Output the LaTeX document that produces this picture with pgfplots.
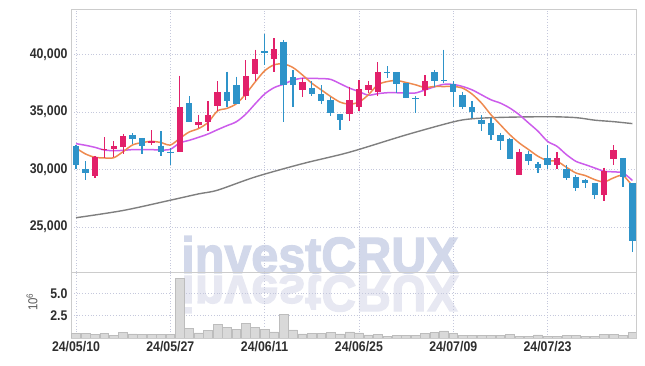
\documentclass[border=0pt]{standalone}
\usepackage{fontspec}
\setmainfont{Liberation Sans}[FakeStretch=0.88]
\newfontfamily\wmfont{Liberation Sans}[UprightFont=* Bold, FakeBold=2.5]
\usepackage{pgfplots}
\pgfplotsset{compat=1.18}
\usepackage{pgfplotstable}
\definecolor{upc}{HTML}{E2206A}
\definecolor{dnc}{HTML}{2E93C9}
\definecolor{maf}{HTML}{EE8A4F}
\definecolor{mat}{HTML}{CC5CEB}
\definecolor{mas}{HTML}{7F7F7F}
\definecolor{gridc}{HTML}{C5C8DC}
\definecolor{axc}{HTML}{CCCCCC}
\definecolor{txt}{HTML}{2E2E2E}
\definecolor{wm}{HTML}{D2D8EA}
\definecolor{wmr}{HTML}{E7E8F2}
\definecolor{volf}{HTML}{D9D9D9}
\definecolor{vole}{HTML}{BDBDBD}

\pgfplotstableread{
idx ma5 ma10
0 31860 32240
1 31350 32100
2 31060 31920
3 31000 31690
4 31020 31630
5 31550 31660
6 32130 31720
7 32330 31720
8 32440 31720
9 32340 31690
10 32120 31750
11 32700 32300
12 33250 32530
13 33550 32790
14 34080 33080
15 35080 33450
16 35300 33800
17 35700 34140
18 36550 34800
19 37600 35700
20 38560 36550
21 39080 37100
22 39160 37400
23 38850 37750
24 38210 37920
25 37490 37900
26 36910 37890
27 36340 37820
28 35850 37450
29 35670 37060
30 35850 36760
31 36480 36450
32 37350 36580
33 37630 36660
34 37720 36660
35 37550 36640
36 37350 36640
37 37120 36900
38 37200 37170
39 37200 37390
40 37200 37380
41 37060 37200
42 36540 36910
43 35760 36480
44 34750 36050
45 33880 35760
46 33020 35330
47 32300 34750
48 31720 34030
49 31140 33310
50 30770 32440
51 30710 32010
52 30190 31290
53 29700 30710
54 29470 30420
55 29120 30130
56 28920 29850
57 29270 29790
58 29470 29700
59 28550 29040
}\matable

\pgfplotstableread{
idx ma60
0 25810
5 26440
10 27330
13 27880
15 28200
19 29350
24 30500
29 31500
35 33000
40 34130
42 34400
45 34520
50 34580
53 34500
55 34280
57 34150
59 33980
}\malong

\pgfplotstableread{
idx vol
0 0.49
1 0.49
2 0.38
3 0.52
4 0.30
5 0.64
6 0.45
7 0.38
8 0.38
9 0.38
10 0.38
11 6.67
12 1.05
13 0.56
14 0.85
15 1.54
16 1.20
17 0.96
18 1.65
19 1.20
20 0.96
21 0.68
22 2.65
23 0.90
24 0.46
25 0.53
26 0.53
27 0.64
28 0.46
29 0.68
30 0.57
31 0.34
32 0.42
33 0.15
34 0.25
35 0.27
36 0.30
37 0.53
38 0.60
39 0.79
40 0.50
41 0.27
42 0.27
43 0.27
44 0.27
45 0.27
46 0.42
47 0.22
48 0.22
49 0.35
50 0.20
51 0.20
52 0.27
53 0.27
54 0.20
55 0.22
56 0.42
57 0.42
58 0.30
59 0.65
}\voltable

\pgfplotsset{
  common/.style={
    scale only axis, width=565pt, anchor=south west,
    xmin=-0.53, xmax=59.38,
    axis line style={axc, line width=0.8pt},
    major tick length=0pt,
    grid=major,
    major grid style={gridc, dash pattern=on 1pt off 1.8pt, line width=0.6pt},
    xtick={0,10,20,30,40,50},
    scaled x ticks=false, scaled y ticks=false,
    tick label style={font=\fontsize{14}{16}\selectfont\bfseries, text=txt},
  }
}

\begin{document}
\begin{tikzpicture}
\path[use as bounding box] (0,0) rectangle (645pt,366pt);
% watermark
\node[font=\wmfont\fontsize{51}{51}\selectfont, text=wm, anchor=base, xscale=0.95, inner sep=0pt] at (320pt,93pt) {investCRUX};
\node[font=\wmfont\fontsize{51}{51}\selectfont, text=wmr, anchor=base, xscale=0.95, yscale=-1, inner sep=0pt] at (320pt,90pt) {investCRUX};

\begin{axis}[common, at={(71pt,94pt)}, height=263pt,
  ymin=21100, ymax=43930,
  ytick={25000,30000,35000,40000},
  yticklabels={{25,000},{30,000},{35,000},{40,000}},
  xticklabels={},
  unbounded coords=jump]
\addplot[mas, line width=1.4pt, smooth] table[x=idx, y=ma60] {\malong};
\addplot[mat, line width=1.5pt, smooth] table[x=idx, y=ma10] {\matable};
\addplot[maf, line width=1.5pt, smooth] table[x=idx, y=ma5] {\matable};
% down candles: wicks
\addplot[dnc, line width=1.3pt] coordinates {
(0,32100) (0,30050) (0,nan) (1,30700) (1,29050) (1,nan) (6,33150) (6,32200) (6,nan)
(7,32750) (7,31350) (7,nan) (9,33300) (9,31150) (9,nan) (10,31850) (10,30400) (10,nan)
(12,36350) (12,34100) (12,nan) (16,38500) (16,35450) (16,nan) (17,38050) (17,35650) (17,nan)
(20,41800) (20,39050) (20,nan) (22,41250) (22,34100) (22,nan) (23,38650) (23,35450) (23,nan)
(25,37650) (25,36350) (25,nan) (26,37300) (26,35650) (26,nan) (27,36300) (27,34600) (27,nan)
(28,34800) (28,33400) (28,nan) (33,38950) (33,37900) (33,nan) (34,38450) (34,36600) (34,nan)
(35,37500) (35,36200) (35,nan) (36,36350) (36,34900) (36,nan) (38,38650) (38,37200) (38,nan)
(39,40400) (39,37500) (39,nan) (40,37650) (40,35450) (40,nan) (41,36750) (41,35250) (41,nan)
(42,35950) (42,34450) (42,nan) (43,34700) (43,33300) (43,nan) (44,34450) (44,32600) (44,nan)
(45,33150) (45,31700) (45,nan) (46,32750) (46,30950) (46,nan) (48,31600) (48,30350) (48,nan)
(49,30650) (49,29650) (49,nan) (50,32100) (50,30000) (50,nan) (52,30400) (52,29100) (52,nan)
(53,29550) (53,28100) (53,nan) (54,29200) (54,28400) (54,nan) (55,28850) (55,27400) (55,nan)
(58,31000) (58,28450) (58,nan) (59,28800) (59,22800) (59,nan)
};
% down candles: bodies
\addplot[dnc, line width=6.4pt] coordinates {
(0,32000) (0,30350) (0,nan) (1,30050) (1,29650) (1,nan) (6,33000) (6,32650) (6,nan)
(7,32750) (7,32050) (7,nan) (9,32050) (9,31500) (9,nan) (10,31550) (10,31450) (10,nan)
(12,35750) (12,34100) (12,nan) (16,36750) (16,35950) (16,nan) (17,37300) (17,35650) (17,nan)
(20,40250) (20,40100) (20,nan) (22,41100) (22,37300) (22,nan) (23,38000) (23,37350) (23,nan)
(25,37050) (25,36550) (25,nan) (26,36550) (26,35950) (26,nan) (27,36050) (27,34900) (27,nan)
(28,34800) (28,34300) (28,nan) (33,38500) (33,38400) (33,nan) (34,38450) (34,37450) (34,nan)
(35,37500) (35,36200) (35,nan) (36,36200) (36,36100) (36,nan) (38,38450) (38,37650) (38,nan)
(39,37750) (39,37650) (39,nan) (40,37450) (40,36750) (40,nan) (41,36500) (41,35450) (41,nan)
(42,35400) (42,35000) (42,nan) (43,34300) (43,33950) (43,nan) (44,34050) (44,32950) (44,nan)
(45,33000) (45,32500) (45,nan) (46,32650) (46,30950) (46,nan) (48,31300) (48,30700) (48,nan)
(49,30500) (49,30100) (49,nan) (50,31000) (50,30350) (50,nan) (52,30050) (52,29250) (52,nan)
(53,29350) (53,28400) (53,nan) (54,29050) (54,28800) (54,nan) (55,28800) (55,27750) (55,nan)
(58,31000) (58,29350) (58,nan) (59,28800) (59,23800) (59,nan)
};
% up candles: wicks
\addplot[upc, line width=1.3pt] coordinates {
(2,31150) (2,29300) (2,nan) (3,32800) (3,31000) (3,nan) (4,32450) (4,31050) (4,nan)
(5,33100) (5,31300) (5,nan) (8,33400) (8,32100) (8,nan) (11,38150) (11,31500) (11,nan)
(13,34750) (13,33600) (13,nan) (14,35950) (14,33300) (14,nan) (15,37650) (15,35050) (15,nan)
(18,39500) (18,36050) (18,nan) (19,40400) (19,37650) (19,nan) (21,41400) (21,38500) (21,nan)
(24,37900) (24,36250) (24,nan) (29,37200) (29,34250) (29,nan) (30,37800) (30,35050) (30,nan)
(31,37700) (31,36600) (31,nan) (32,39300) (32,36350) (32,nan) (37,38200) (37,36400) (37,nan)
(47,31800) (47,29550) (47,nan) (51,31500) (51,30000) (51,nan) (56,30150) (56,27250) (56,nan)
(57,32100) (57,30350) (57,nan)
};
% up candles: bodies
\addplot[upc, line width=6.4pt] coordinates {
(2,29450) (2,31100) (2,nan) (3,31650) (3,31800) (3,nan) (4,31800) (4,32050) (4,nan)
(5,31950) (5,32900) (5,nan) (8,32300) (8,32450) (8,nan) (11,31550) (11,35400) (11,nan)
(13,33900) (13,34100) (13,nan) (14,34150) (14,34700) (14,nan) (15,35550) (15,36750) (15,nan)
(18,36350) (18,38150) (18,nan) (19,38300) (19,39550) (19,nan) (21,39600) (21,40500) (21,nan)
(24,36900) (24,37600) (24,nan) (29,34800) (29,36000) (29,nan) (30,35400) (30,36950) (30,nan)
(31,36900) (31,37300) (31,nan) (32,36700) (32,38450) (32,nan) (37,36900) (37,37700) (37,nan)
(47,29550) (47,31500) (47,nan) (51,30350) (51,31000) (51,nan) (56,27800) (56,29850) (56,nan)
(57,30950) (57,31650) (57,nan)
};
\end{axis}

\begin{axis}[common, at={(71pt,28pt)}, height=66pt,
  ymin=0, ymax=7.37,
  ytick={2.5,5}, yticklabels={2.5,5.0},
  xticklabels={24/05/10,24/05/27,24/06/11,24/06/25,24/07/09,24/07/23}]
\addplot[ybar, bar width=8.8pt, bar shift=0pt, fill=volf, draw=vole, line width=0.6pt] table[x=idx, y=vol] {\voltable};
\end{axis}

\node[rotate=90, font=\fontsize{13}{15}\selectfont, text=black!65] at (32pt,64pt) {10\textsuperscript{6}};
\end{tikzpicture}
\end{document}
